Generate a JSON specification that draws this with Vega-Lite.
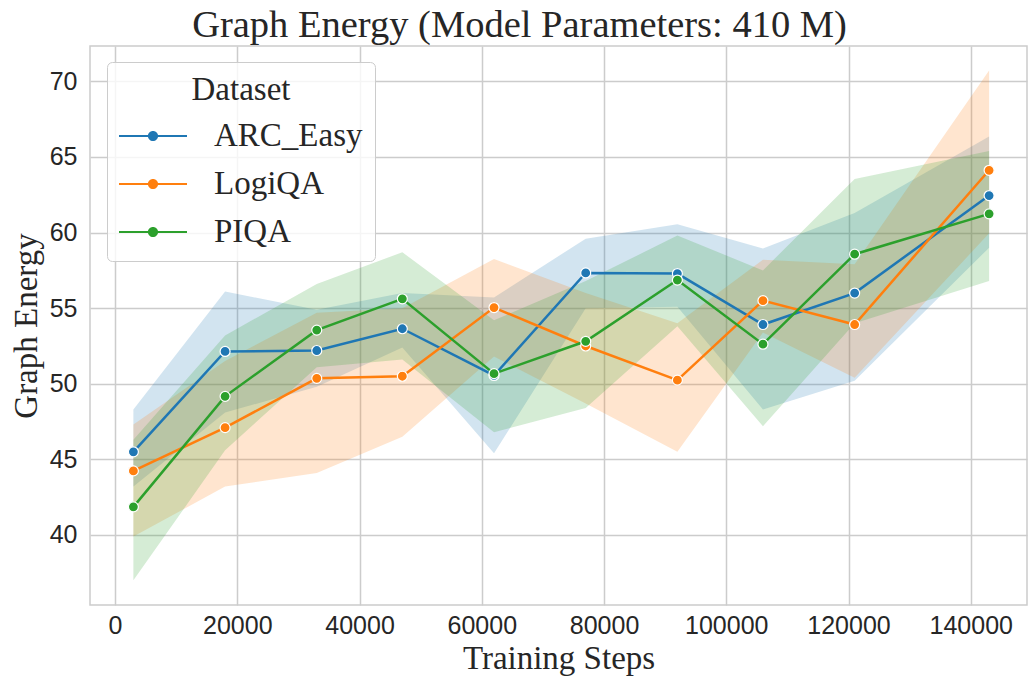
{
  "$schema": "https://vega.github.io/schema/vega-lite/v6.json",
  "width": 937,
  "height": 559,
  "autosize": {"type": "none"},
  "padding": {"left": 90, "top": 46, "right": 1, "bottom": 75},
  "background": "white",
  "title": {
    "text": "Graph Energy (Model Parameters: 410 M)",
    "font": "Liberation Serif",
    "fontSize": 38.5,
    "fontWeight": "normal",
    "color": "#262626",
    "anchor": "middle",
    "dx": -39,
    "offset": 1
  },
  "data": {
    "values": [
      {"dataset": "ARC_Easy", "step": 3000, "mean": 45.5, "lo": 43.2, "hi": 48.3},
      {"dataset": "ARC_Easy", "step": 18000, "mean": 52.14, "lo": 48.1, "hi": 56.1},
      {"dataset": "ARC_Easy", "step": 33000, "mean": 52.2, "lo": 49.8, "hi": 54.9},
      {"dataset": "ARC_Easy", "step": 47000, "mean": 53.64, "lo": 52.4, "hi": 56.0},
      {"dataset": "ARC_Easy", "step": 62000, "mean": 50.55, "lo": 45.4, "hi": 55.7},
      {"dataset": "ARC_Easy", "step": 77000, "mean": 57.33, "lo": 55.0, "hi": 59.6},
      {"dataset": "ARC_Easy", "step": 92000, "mean": 57.29, "lo": 55.1, "hi": 60.55},
      {"dataset": "ARC_Easy", "step": 106000, "mean": 53.92, "lo": 48.3, "hi": 58.95},
      {"dataset": "ARC_Easy", "step": 121000, "mean": 56.0, "lo": 50.2, "hi": 61.3},
      {"dataset": "ARC_Easy", "step": 143000, "mean": 62.45, "lo": 59.0, "hi": 66.35},
      {"dataset": "LogiQA", "step": 3000, "mean": 44.24, "lo": 39.9, "hi": 47.3},
      {"dataset": "LogiQA", "step": 18000, "mean": 47.1, "lo": 43.2, "hi": 51.5},
      {"dataset": "LogiQA", "step": 33000, "mean": 50.36, "lo": 44.1, "hi": 54.7},
      {"dataset": "LogiQA", "step": 47000, "mean": 50.5, "lo": 46.5, "hi": 55.0},
      {"dataset": "LogiQA", "step": 62000, "mean": 55.04, "lo": 51.8, "hi": 58.25},
      {"dataset": "LogiQA", "step": 77000, "mean": 52.5, "lo": 48.7, "hi": 56.0},
      {"dataset": "LogiQA", "step": 92000, "mean": 50.24, "lo": 45.5, "hi": 54.0},
      {"dataset": "LogiQA", "step": 106000, "mean": 55.5, "lo": 53.4, "hi": 58.2},
      {"dataset": "LogiQA", "step": 121000, "mean": 53.92, "lo": 50.4, "hi": 57.9},
      {"dataset": "LogiQA", "step": 143000, "mean": 64.12, "lo": 59.95, "hi": 70.72},
      {"dataset": "PIQA", "step": 3000, "mean": 41.86, "lo": 37.0, "hi": 46.3},
      {"dataset": "PIQA", "step": 18000, "mean": 49.17, "lo": 45.6, "hi": 53.2},
      {"dataset": "PIQA", "step": 33000, "mean": 53.55, "lo": 51.1, "hi": 56.6},
      {"dataset": "PIQA", "step": 47000, "mean": 55.62, "lo": 51.6, "hi": 58.7},
      {"dataset": "PIQA", "step": 62000, "mean": 50.67, "lo": 46.8, "hi": 54.2},
      {"dataset": "PIQA", "step": 77000, "mean": 52.81, "lo": 48.4, "hi": 56.8},
      {"dataset": "PIQA", "step": 92000, "mean": 56.86, "lo": 53.8, "hi": 59.8},
      {"dataset": "PIQA", "step": 106000, "mean": 52.62, "lo": 47.2, "hi": 57.5},
      {"dataset": "PIQA", "step": 121000, "mean": 58.57, "lo": 54.0, "hi": 63.55},
      {"dataset": "PIQA", "step": 143000, "mean": 61.24, "lo": 56.8, "hi": 65.4}
    ]
  },
  "encoding": {
    "x": {
      "field": "step",
      "type": "quantitative",
      "scale": {"domain": [-4100, 149200], "nice": false, "zero": false},
      "axis": {
        "title": "Training Steps",
        "values": [0, 20000, 40000, 60000, 80000, 100000, 120000, 140000],
        "format": "d",
        "labelPadding": 8,
        "titlePadding": 4
      }
    },
    "color": {
      "field": "dataset",
      "type": "nominal",
      "scale": {
        "domain": ["ARC_Easy", "LogiQA", "PIQA"],
        "range": ["#1f77b4", "#ff7f0e", "#2ca02c"]
      },
      "legend": {
        "title": "Dataset",
        "orient": "none",
        "legendX": 17,
        "legendY": 16,
        "symbolType": "M-2,-0.065H2V0.065H-2Z M0.3,0A0.3,0.3,0,1,1,-0.3,0A0.3,0.3,0,1,1,0.3,0Z",
        "symbolSize": 1156,
        "symbolOffset": 17,
        "symbolStrokeWidth": 0,
        "symbolOpacity": 1,
        "labelOffset": 44,
        "encode": {
          "symbols": {
            "update": {
              "fill": {"scale": "color", "field": "value"},
              "fillOpacity": {"value": 1},
              "opacity": {"value": 1},
              "strokeWidth": {"value": 0}
            }
          }
        }
      }
    }
  },
  "layer": [
    {
      "mark": {"type": "area", "opacity": 0.2},
      "encoding": {
        "y": {
          "field": "lo",
          "type": "quantitative",
          "scale": {"domain": [35.37, 72.34], "nice": false, "zero": false},
          "axis": {
            "title": "Graph Energy",
            "values": [40, 45, 50, 55, 60, 65, 70],
            "labelPadding": 13,
            "titlePadding": 6
          }
        },
        "y2": {"field": "hi"}
      }
    },
    {
      "mark": {"type": "line", "strokeWidth": 2.5},
      "encoding": {"y": {"field": "mean", "type": "quantitative"}}
    },
    {
      "mark": {"type": "point", "filled": true, "size": 100, "opacity": 1, "stroke": "white", "strokeWidth": 1.2},
      "encoding": {"y": {"field": "mean", "type": "quantitative"}}
    }
  ],
  "config": {
    "view": {"stroke": "#cccccc", "strokeWidth": 1.5},
    "axis": {
      "domain": false,
      "ticks": false,
      "grid": true,
      "gridColor": "#cccccc",
      "gridWidth": 1.5,
      "labelFont": "Liberation Sans",
      "labelFontSize": 25,
      "labelColor": "#262626",
      "titleFont": "Liberation Serif",
      "titleFontSize": 33,
      "titleFontWeight": "normal",
      "titleColor": "#262626"
    },
    "legend": {
      "fillColor": "rgba(255,255,255,0.8)",
      "strokeColor": "#cccccc",
      "cornerRadius": 5,
      "padding": 12,
      "titleFont": "Liberation Serif",
      "titleFontSize": 33,
      "titleFontWeight": "normal",
      "titleColor": "#262626",
      "titleAnchor": "middle",
      "titlePadding": 12,
      "labelFont": "Liberation Serif",
      "labelFontSize": 33,
      "labelColor": "#262626",
      "rowPadding": 14
    }
  }
}
